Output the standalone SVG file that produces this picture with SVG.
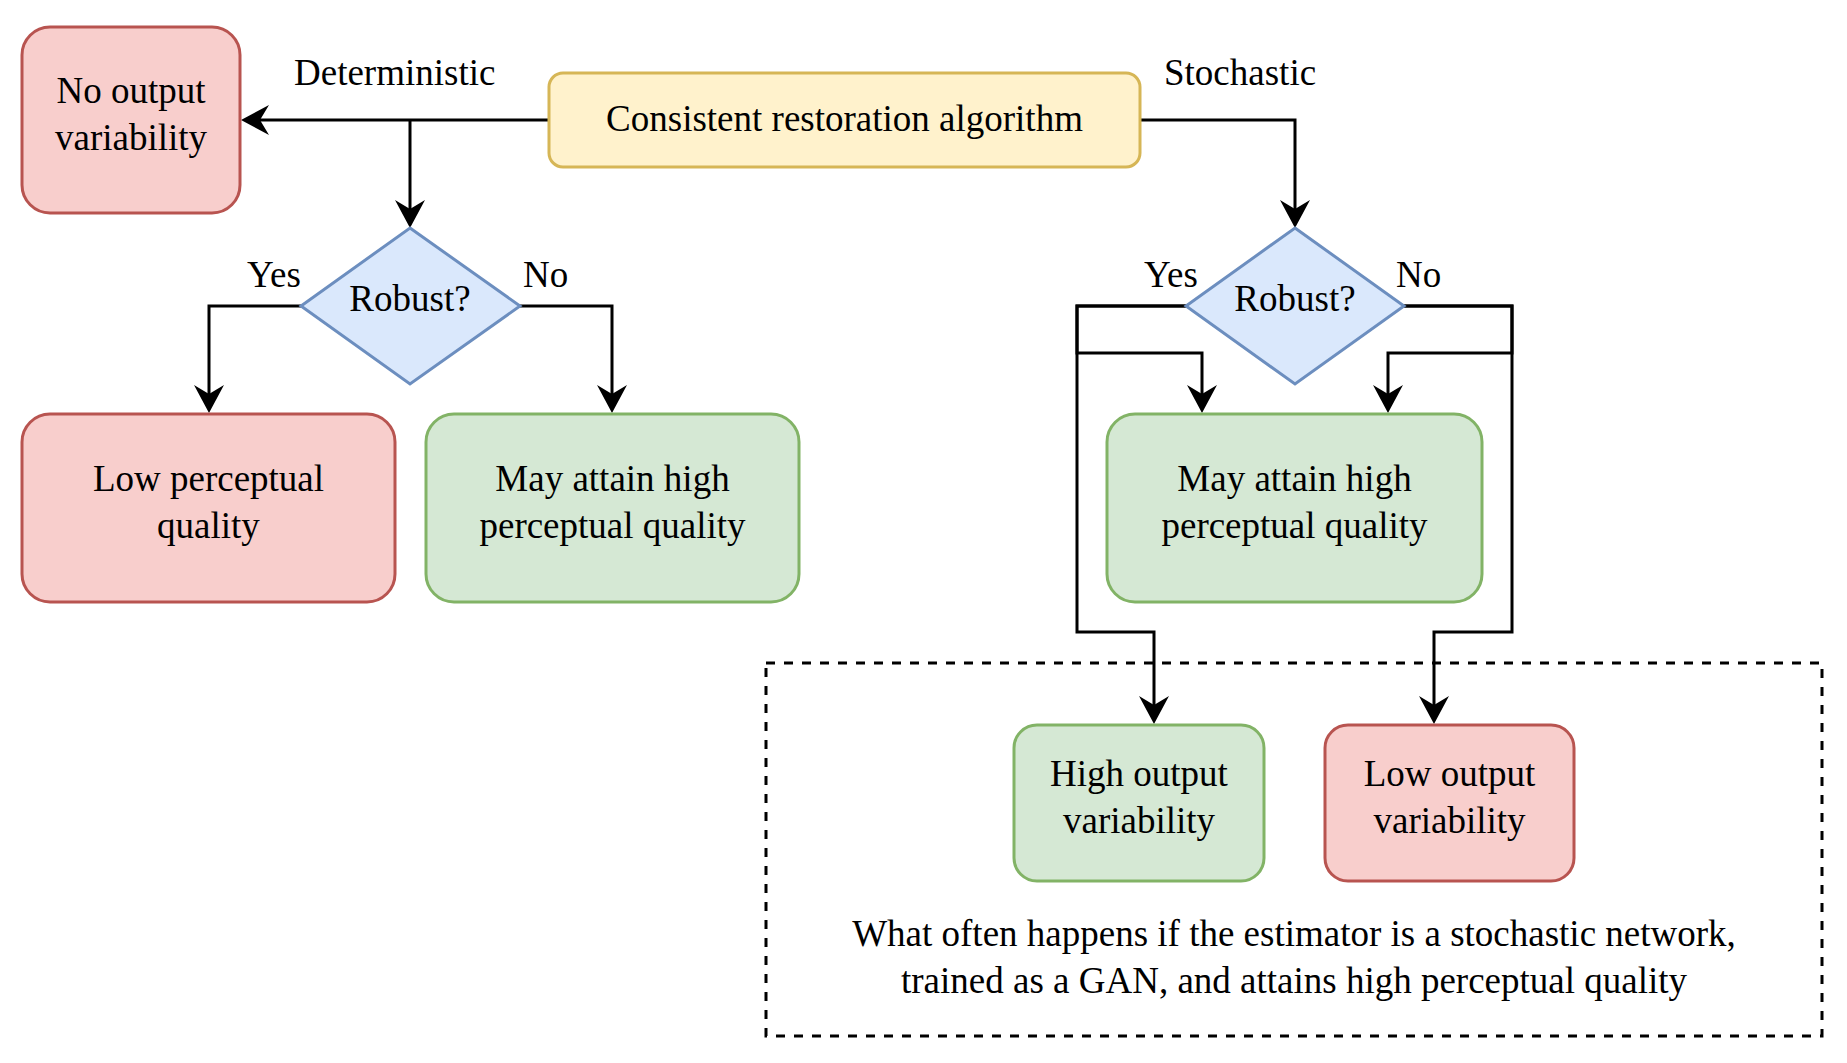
<svg xmlns="http://www.w3.org/2000/svg" width="1847" height="1063" viewBox="0 0 1847 1063">
<style>
text{font-family:"Liberation Serif","Times New Roman",serif;font-size:37px;fill:#000}
.c{text-anchor:middle}
.red{fill:#f8cecc;stroke:#b85450;stroke-width:3}
.green{fill:#d5e8d4;stroke:#82b366;stroke-width:3}
.yellow{fill:#fff2cc;stroke:#d6b656;stroke-width:3}
.blue{fill:#dae8fc;stroke:#6c8ebf;stroke-width:3}
.edge{fill:none;stroke:#000;stroke-width:3;stroke-linejoin:miter}
.arr{marker-end:url(#ah)}
</style>
<defs>
<marker id="ah" markerUnits="userSpaceOnUse" viewBox="0 0 28 30" markerWidth="28" markerHeight="30" refX="18" refY="15" orient="auto">
<path d="M0,0 L28,15 L0,30 L9,15 Z" fill="#000"/>
</marker>
</defs>
<rect width="1847" height="1063" fill="#fff"/>
<g id="group-box">
<rect x="766" y="663" width="1056" height="373" fill="none" stroke="#000" stroke-width="3" stroke-dasharray="9 9"/>
<text class="c" x="1294" y="946">What often happens if the estimator is a stochastic network,</text>
<text class="c" x="1294" y="993">trained as a GAN, and attains high perceptual quality</text>
</g>
<g id="connectors">
<path class="edge arr" d="M549,120 H251"/>
<path class="edge arr" d="M410,120 V218"/>
<path class="edge arr" d="M1140,120 H1295 V218"/>
<path class="edge arr" d="M301,306 H209 V403"/>
<path class="edge arr" d="M520,306 H612 V403"/>
<path class="edge arr" d="M1186,306 H1077 V632 H1154 V714"/>
<path class="edge arr" d="M1186,306 H1077 V353 H1202 V403"/>
<path class="edge arr" d="M1404,306 H1512 V632 H1434 V714"/>
<path class="edge arr" d="M1404,306 H1512 V353 H1388 V403"/>
<text x="294" y="85">Deterministic</text>
<text x="1164" y="85">Stochastic</text>
<text x="247" y="287">Yes</text>
<text x="523" y="287">No</text>
<text x="1144" y="287">Yes</text>
<text x="1396" y="287">No</text>
</g>
<g id="start">
<rect class="yellow" x="549" y="73" width="591" height="94" rx="14" ry="14"/>
<text class="c" x="844.5" y="131">Consistent restoration algorithm</text>
</g>
<g id="no-output-variability">
<rect class="red" x="22" y="27" width="218" height="186" rx="28" ry="28"/>
<text class="c" x="131" y="103">No output</text>
<text class="c" x="131" y="149.5">variability</text>
</g>
<g id="robust-det">
<polygon class="blue" points="410,228 520,306 410,384 301,306"/>
<text class="c" x="410" y="311">Robust?</text>
</g>
<g id="robust-sto">
<polygon class="blue" points="1295,228 1404,306 1295,384 1186,306"/>
<text class="c" x="1295" y="311">Robust?</text>
</g>
<g id="low-perceptual">
<rect class="red" x="22" y="414" width="373" height="188" rx="28" ry="28"/>
<text class="c" x="208.5" y="491">Low perceptual</text>
<text class="c" x="208.5" y="538">quality</text>
</g>
<g id="may-attain-det">
<rect class="green" x="426" y="414" width="373" height="188" rx="28" ry="28"/>
<text class="c" x="612.5" y="491">May attain high</text>
<text class="c" x="612.5" y="538">perceptual quality</text>
</g>
<g id="may-attain-sto">
<rect class="green" x="1107" y="414" width="375" height="188" rx="28" ry="28"/>
<text class="c" x="1294.5" y="491">May attain high</text>
<text class="c" x="1294.5" y="538">perceptual quality</text>
</g>
<g id="high-output-variability">
<rect class="green" x="1014" y="725" width="250" height="156" rx="23" ry="23"/>
<text class="c" x="1139" y="786">High output</text>
<text class="c" x="1139" y="833">variability</text>
</g>
<g id="low-output-variability">
<rect class="red" x="1325" y="725" width="249" height="156" rx="23" ry="23"/>
<text class="c" x="1449.5" y="786">Low output</text>
<text class="c" x="1449.5" y="833">variability</text>
</g>
</svg>
